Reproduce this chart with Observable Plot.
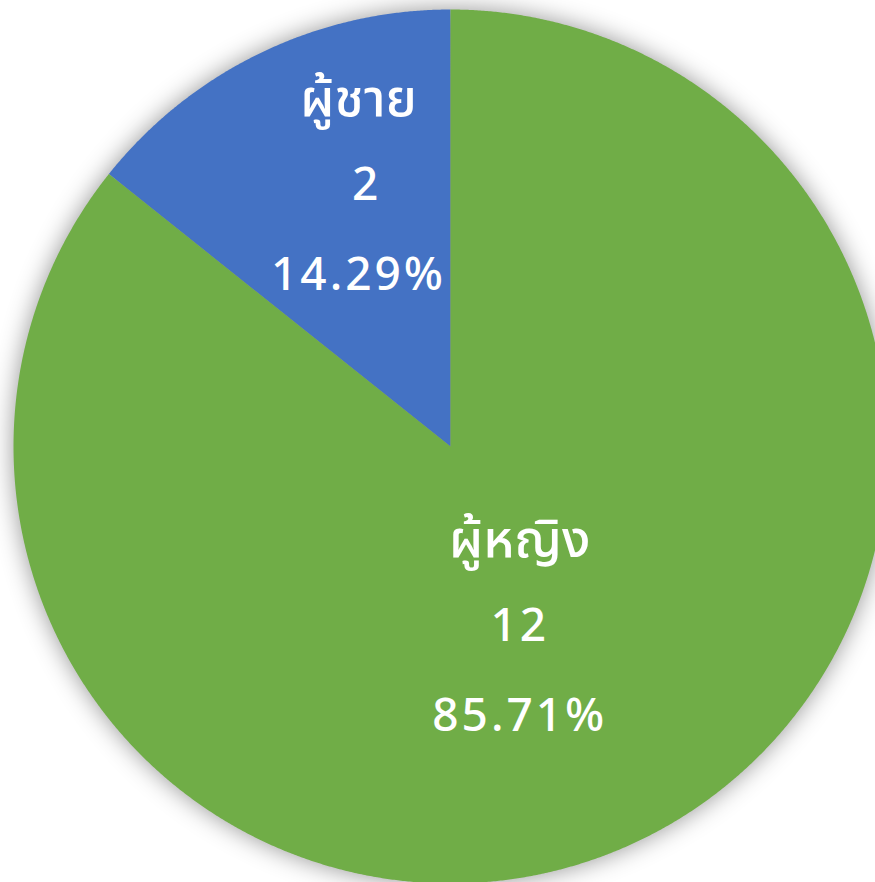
<!DOCTYPE html>
<html>
<head>
<meta charset="utf-8">
<script src="https://cdn.jsdelivr.net/npm/d3@7"></script>
<script src="https://cdn.jsdelivr.net/npm/@observablehq/plot@0.6"></script>
<style>
  html, body { margin: 0; padding: 0; background: #fff; overflow: hidden; }
  #chart svg { overflow: visible; }
  #chart g[aria-label="line"] { filter: drop-shadow(0 0 12px rgba(0,0,0,0.42)); }
  #chart g[aria-label="text"].num text { letter-spacing: 3px; }
</style>
</head>
<body>
<div id="chart"></div>
<script>
// Data
const categories = ["ผู้ชาย", "ผู้หญิง"];
const values = [2, 12];
const percentLabels = ["14.29%", "85.71%"];
const colors = ["#4472C4", "#70AD47"];

const total = d3.sum(values);
const rows = categories.map((c, i) => ({cat: c, value: values[i], pct: percentLabels[i]}));

// Pie layout: blue slice ends at 12 o'clock, green continues clockwise
const pie = d3.pie().sort(null).value(d => d.value)
  .startAngle(-2 * Math.PI * values[0] / total)
  .endAngle(2 * Math.PI - 2 * Math.PI * values[0] / total);
const arcs = pie(rows);

// Polygon points for each slice (unit circle, y up, angle clockwise from top)
const pts = [];
for (const a of arcs) {
  pts.push({cat: a.data.cat, x: 0, y: 0});
  const n = Math.max(4, Math.ceil((a.endAngle - a.startAngle) / 0.004));
  for (let k = 0; k <= n; k++) {
    const t = a.startAngle + (a.endAngle - a.startAngle) * k / n;
    pts.push({cat: a.data.cat, x: Math.sin(t), y: Math.cos(t)});
  }
  pts.push({cat: a.data.cat, x: 0, y: 0});
}

// Label anchors: derived from slice mid-angle, nudged like Excel's best-fit placement
const placement = {"ผู้ชาย": {r: 0.633, da: 6.3}, "ผู้หญิง": {r: 0.44, da: 4.6}};
const labels = arcs.map(a => {
  const p = placement[a.data.cat];
  const m = (a.startAngle + a.endAngle) / 2 + p.da * Math.PI / 180;
  return {cat: a.data.cat, value: String(a.data.value), pct: a.data.pct, x: p.r * Math.sin(m), y: p.r * Math.cos(m)};
});

const fontFamily = '"Noto Sans Thai", "Noto Sans", "DejaVu Sans", sans-serif';
const textOpts = {x: "x", y: "y", fill: "white", fontFamily, textAnchor: "middle", lineAnchor: "middle"};

const chart = Plot.plot({
  width: 875,
  height: 882,
  margin: 0,
  x: {domain: [-1, 1], range: [13, 887], axis: null},
  y: {domain: [-1, 1], range: [883, 9], axis: null},
  color: {domain: categories, range: colors},
  style: {background: "white", overflow: "visible"},
  marks: [
    Plot.line(pts, {x: "x", y: "y", z: "cat", fill: "cat", stroke: null, curve: "linear"}),
    Plot.text(labels, {...textOpts, text: "cat", dy: -86, fontSize: 52, fontWeight: 500}),
    Plot.text(labels, {...textOpts, text: "value", fontSize: 46, fontWeight: 500, className: "num",
      filter: d => d.cat === categories[0], dx: 8}),
    Plot.text(labels, {...textOpts, text: "value", fontSize: 46, fontWeight: 500, className: "num",
      filter: d => d.cat !== categories[0]}),
    Plot.text(labels, {...textOpts, text: "pct", dy: 90, fontSize: 46, fontWeight: 500, className: "num"})
  ]
});
document.getElementById("chart").appendChild(chart);
</script>
</body>
</html>
